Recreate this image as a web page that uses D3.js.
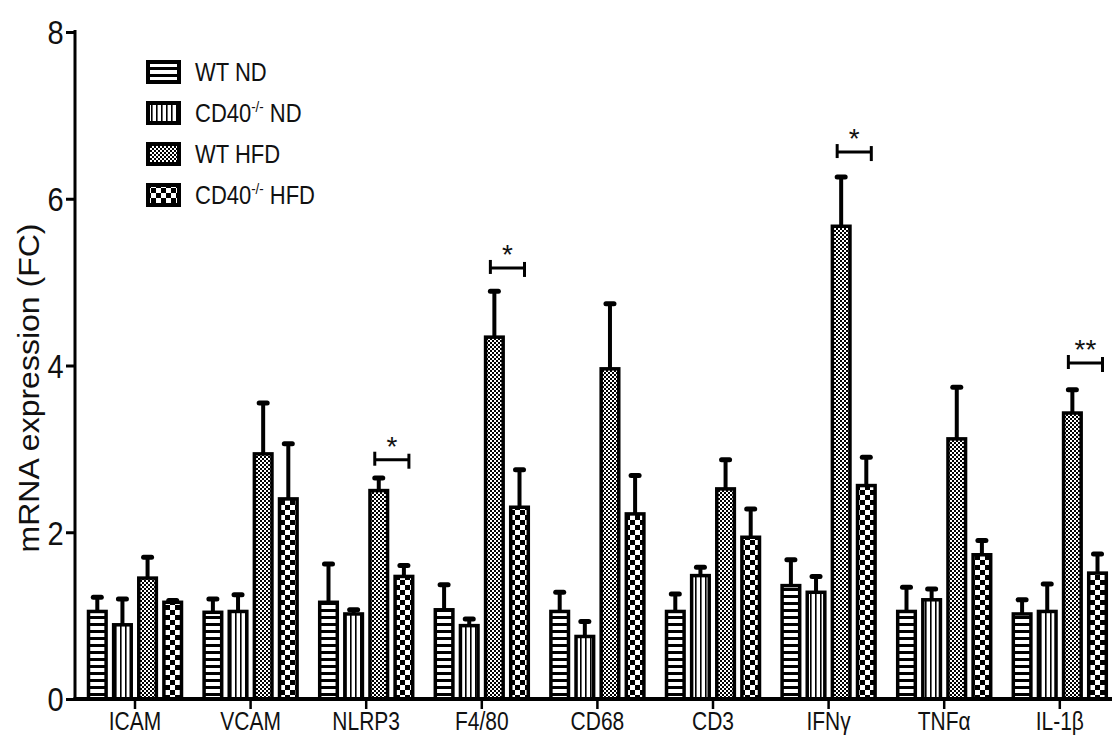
<!DOCTYPE html>
<html>
<head>
<meta charset="utf-8">
<script src="https://cdn.jsdelivr.net/npm/d3@7"></script>
<style>
  body { margin: 0; background: #fff; }
  text { font-family: "Liberation Sans", Arial, sans-serif; fill: #111; }
</style>
</head>
<body>
<div id="chart"></div>
<script>
// genes on the x axis
const genes = ["ICAM", "VCAM", "NLRP3", "F4/80", "CD68", "CD3", "IFNγ", "TNFα", "IL-1β"];

// the four groups
const groups = ["WT ND", "CD40 ND", "WT HFD", "CD40 HFD"];

// mean fold change per group
const meanWtND   = [1.05, 1.04, 1.16, 1.07, 1.05, 1.05, 1.36, 1.05, 1.02];
const meanCdND   = [0.89, 1.05, 1.02, 0.88, 0.75, 1.48, 1.28, 1.19, 1.05];
const meanWtHFD  = [1.45, 2.94, 2.50, 4.34, 3.96, 2.52, 5.67, 3.12, 3.43];
const meanCdHFD  = [1.16, 2.40, 1.47, 2.30, 2.22, 1.94, 2.56, 1.73, 1.51];

// upper error (SEM)
const semWtND  = [0.17, 0.16, 0.46, 0.30, 0.23, 0.21, 0.31, 0.29, 0.17];
const semCdND  = [0.31, 0.20, 0.05, 0.08, 0.18, 0.10, 0.19, 0.13, 0.33];
const semWtHFD = [0.25, 0.61, 0.15, 0.55, 0.78, 0.35, 0.59, 0.62, 0.28];
const semCdHFD = [0.02, 0.66, 0.13, 0.45, 0.46, 0.34, 0.34, 0.17, 0.23];

// y axis ticks
const yTicks = [0, 2, 4, 6, 8];

// significance markers (WT HFD vs CD40-/- HFD)
const sigGenes  = ["NLRP3", "F4/80", "IFNγ", "IL-1β"];
const sigLabels = ["*", "*", "*", "**"];
const sigLevels = [2.87, 5.17, 6.56, 4.03];

const means = [meanWtND, meanCdND, meanWtHFD, meanCdHFD];
const sems = [semWtND, semCdND, semWtHFD, semCdHFD];
const patternIds = ["hstripe", "vstripe", "finecheck", "bigcheck"];

const width = 1112;
const height = 738;

const svg = d3.select("#chart")
  .append("svg")
  .attr("width", width)
  .attr("height", height);

// fill patterns
const defs = svg.append("defs");

const p1 = defs.append("pattern").attr("id", "hstripe")
  .attr("patternUnits", "userSpaceOnUse").attr("width", 7).attr("height", 7);
p1.append("rect").attr("width", 7).attr("height", 7).attr("fill", "#fff");
p1.append("rect").attr("width", 7).attr("height", 3).attr("fill", "#000");

const p2 = defs.append("pattern").attr("id", "vstripe")
  .attr("patternUnits", "userSpaceOnUse").attr("width", 5).attr("height", 5);
p2.append("rect").attr("width", 5).attr("height", 5).attr("fill", "#fff");
p2.append("rect").attr("width", 1.6).attr("height", 5).attr("fill", "#000");

const p3 = defs.append("pattern").attr("id", "finecheck")
  .attr("patternUnits", "userSpaceOnUse").attr("width", 4).attr("height", 4);
p3.append("rect").attr("width", 4).attr("height", 4).attr("fill", "#fff");
p3.append("rect").attr("width", 2).attr("height", 2).attr("fill", "#000");
p3.append("rect").attr("x", 2).attr("y", 2).attr("width", 2).attr("height", 2).attr("fill", "#000");

const p4 = defs.append("pattern").attr("id", "bigcheck")
  .attr("patternUnits", "userSpaceOnUse").attr("width", 10).attr("height", 10);
p4.append("rect").attr("width", 10).attr("height", 10).attr("fill", "#fff");
p4.append("rect").attr("width", 5).attr("height", 5).attr("fill", "#000");
p4.append("rect").attr("x", 5).attr("y", 5).attr("width", 5).attr("height", 5).attr("fill", "#000");

// scales
const x = d3.scaleBand().domain(genes).range([77.2, 1117.6]);
const xInner = d3.scaleBand().domain(groups).range([-46.5, 46.5]).paddingInner(0.3);
const y = d3.scaleLinear().domain([0, 8]).range([699, 32]);

function barX(gene, gi) {
  return x(gene) + x.bandwidth() / 2 + xInner(groups[gi]);
}

// bars
groups.forEach((g, gi) => {
  const data = genes.map((gene, i) => ({ gene: gene, v: means[gi][i], e: sems[gi][i] }));

  svg.append("g")
    .selectAll("rect")
    .data(data)
    .enter()
    .append("rect")
    .attr("x", (d) => barX(d.gene, gi))
    .attr("y", (d) => y(d.v))
    .attr("width", xInner.bandwidth())
    .attr("height", (d) => y(0) - y(d.v))
    .attr("fill", "url(#" + patternIds[gi] + ")")
    .attr("stroke", "#000")
    .attr("stroke-width", 3.5);

  // error bars (upper only)
  const eb = svg.append("g").selectAll("g").data(data).enter().append("g");
  eb.append("line")
    .attr("x1", (d) => barX(d.gene, gi) + xInner.bandwidth() / 2)
    .attr("x2", (d) => barX(d.gene, gi) + xInner.bandwidth() / 2)
    .attr("y1", (d) => y(d.v))
    .attr("y2", (d) => y(d.v + d.e))
    .attr("stroke", "#000")
    .attr("stroke-width", 4);
  eb.append("line")
    .attr("x1", (d) => barX(d.gene, gi) + xInner.bandwidth() / 2 - 4)
    .attr("x2", (d) => barX(d.gene, gi) + xInner.bandwidth() / 2 + 4)
    .attr("y1", (d) => y(d.v + d.e))
    .attr("y2", (d) => y(d.v + d.e))
    .attr("stroke", "#000")
    .attr("stroke-width", 5)
    .attr("stroke-linecap", "round");
});

// significance brackets
sigGenes.forEach((gene, i) => {
  const x1 = barX(gene, 2) + xInner.bandwidth() / 2 - 4;
  const x2 = barX(gene, 3) + xInner.bandwidth() / 2 + 5;
  const yy = y(sigLevels[i]);
  const s = svg.append("g").attr("stroke", "#000").attr("stroke-width", 3);
  s.append("line").attr("x1", x1).attr("x2", x2).attr("y1", yy).attr("y2", yy);
  s.append("line").attr("x1", x1).attr("x2", x1).attr("y1", yy - 8).attr("y2", yy + 6);
  s.append("line").attr("x1", x2).attr("x2", x2).attr("y1", yy - 6).attr("y2", yy + 9);
  svg.append("text")
    .attr("x", (x1 + x2) / 2)
    .attr("y", yy - 4)
    .attr("text-anchor", "middle")
    .attr("font-size", 28)
    .text(sigLabels[i]);
});

// y axis
const yAxis = d3.axisLeft(y).tickValues(yTicks).tickSize(9).tickPadding(4).tickSizeOuter(0);
const gy = svg.append("g").attr("transform", "translate(75,0)").call(yAxis);
gy.select(".domain").attr("stroke-width", 3).attr("d", "M0,30V700");
gy.selectAll(".tick line").attr("stroke-width", 3);
gy.selectAll(".tick text").attr("font-size", 33).attr("dy", "0.36em")
  .attr("transform", "scale(0.88,1)")
  .style("font-family", "'Liberation Sans', Arial, sans-serif").attr("fill", "#111");

// x axis
const xAxis = d3.axisBottom(x).tickSize(10).tickPadding(3).tickSizeOuter(0);
const gx = svg.append("g").attr("transform", "translate(0,699)").call(xAxis);
gx.select(".domain").attr("stroke-width", 4).attr("d", "M73.5,0H1112");
gx.selectAll(".tick line").attr("stroke-width", 2.5);
gx.selectAll(".tick text").attr("font-size", 25)
  .attr("transform", "scale(0.84,1)")
  .style("font-family", "'Liberation Sans', Arial, sans-serif").attr("fill", "#111");

// y axis title
svg.append("text")
  .attr("transform", "translate(39,388) rotate(-90) scale(1,0.9)")
  .attr("text-anchor", "middle")
  .attr("font-size", 32)
  .attr("fill", "#333")
  .text("mRNA expression (FC)");

// legend
const legendNames = [
  { main: "WT ND", sup: "", rest: "" },
  { main: "CD40", sup: "-/-", rest: " ND" },
  { main: "WT HFD", sup: "", rest: "" },
  { main: "CD40", sup: "-/-", rest: " HFD" },
];

const legend = svg.append("g").attr("transform", "translate(146,60)");
legendNames.forEach((d, i) => {
  const row = legend.append("g").attr("transform", "translate(0," + i * 41 + ")");
  row.append("rect")
    .attr("x", 2).attr("y", 2)
    .attr("width", 31).attr("height", 20)
    .attr("fill", "url(#" + patternIds[i] + ")")
    .attr("stroke", "#000").attr("stroke-width", 4);
  const t = row.append("text")
    .attr("transform", "translate(49,21) scale(0.88,1)")
    .attr("font-size", 25);
  t.append("tspan").text(d.main);
  if (d.sup) {
    t.append("tspan").attr("font-size", 15).attr("dy", -10).text(d.sup);
    t.append("tspan").attr("dy", 10).text(d.rest);
  }
});
</script>
</body>
</html>
